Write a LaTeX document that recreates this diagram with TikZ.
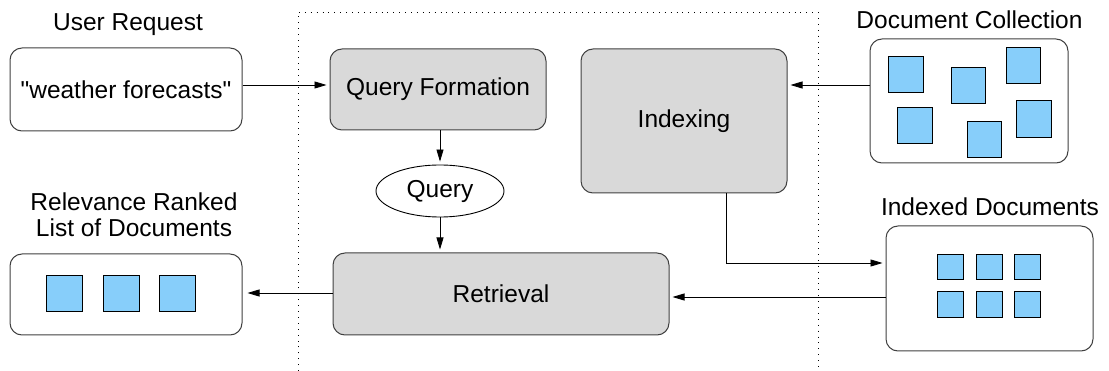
\documentclass[tikz,border=0pt]{standalone}
\usepackage{fontspec}
\setmainfont{Liberation Sans}[Ligatures=TeXOff]
\usetikzlibrary{arrows.meta,shapes.geometric}
\definecolor{procgray}{HTML}{D9D9D9}
\definecolor{docblue}{HTML}{87CEFA}
\definecolor{edgegray}{HTML}{404040}
\begin{document}
\begin{tikzpicture}[x=1pt,y=-1pt,
  every node/.style={font=\fontsize{24.5}{26}\selectfont, inner sep=0pt},
  databox/.style={draw=edgegray, line width=1pt, rounded corners=12pt, fill=white},
  procbox/.style={draw=edgegray, line width=1pt, rounded corners=12pt, fill=procgray},
  doc/.style={draw=black, line width=0.9pt, fill=docblue},
  lbl/.style={align=center},
  arr/.style={draw=black, line width=0.8pt, -{Triangle[length=12pt,width=7pt]}, shorten >=3pt}
]
\useasboundingbox (0,0) rectangle (1109,371);
% dotted frame
\draw[line width=0.9pt, dash pattern=on 0.9pt off 5pt] (298,371) -- (298,12) -- (818,12) -- (818,371);

% user request
\node[lbl] (ulabel) at (128,25) {User Request};
\node[databox, minimum width=232pt, minimum height=83pt] (req) at (126,89.5) {"weather forecasts"};

% query formation
\node[procbox, minimum width=216pt, minimum height=81pt] (qf) at (438,89.5) {Query Formation};
\node[draw=black, line width=0.9pt, ellipse, minimum width=128pt, minimum height=52pt] (query) at (440,191) {Query};
\node[procbox, minimum width=336pt, minimum height=82pt] (retr) at (501,294) {Retrieval};

% indexing
\node[procbox, minimum width=206pt, minimum height=144pt] (idx) at (684,121) {Indexing};

% document collection
\node[lbl] (dclabel) at (969.5,20) {Document Collection};
\node[databox, minimum width=198pt, minimum height=124pt] (dc) at (969,101) {};
\node[doc, minimum width=35pt, minimum height=36pt] (c1) at (905.5,74) {};
\node[doc, minimum width=34pt, minimum height=36pt] (c2) at (968,85) {};
\node[doc, minimum width=34pt, minimum height=36pt] (c3) at (1023,65) {};
\node[doc, minimum width=35pt, minimum height=36pt] (c4) at (914.5,125) {};
\node[doc, minimum width=34pt, minimum height=36pt] (c5) at (984,139) {};
\node[doc, minimum width=35pt, minimum height=37pt] (c6) at (1033.5,118.5) {};

% indexed documents
\node[lbl] (idlabel) at (990,207) {Indexed Documents};
\node[databox, minimum width=207pt, minimum height=125pt] (iddocs) at (989.5,288.5) {};
\foreach \i/\x in {1/950,2/989,3/1027}{
  \node[doc, minimum width=26pt, minimum height=25pt] (ia\i) at (\x,266.5) {};
  \node[doc, minimum width=26pt, minimum height=26pt] (ib\i) at (\x,304) {};
}

% ranked list
\node[lbl] (rllabel) at (134,215) {Relevance Ranked\\List of Documents};
\node[databox, minimum width=232pt, minimum height=81pt] (rl) at (126,294.5) {};
\foreach \i/\x in {1/64,2/121,3/177.5}{
  \node[doc, minimum width=36pt, minimum height=36pt] (r\i) at (\x,293) {};
}

% connectors
\draw[arr] ([yshift=4.5pt]req.east) -- ([yshift=4.5pt]qf.west);
\draw[arr] (qf.south -| query.north) -- (query.north);
\draw[arr] (query.south) -- (query.south |- retr.north);
\draw[arr] ([yshift=16pt]dc.west) -- ([yshift=16pt]dc.west -| idx.east);
\draw[arr] ([xshift=42pt]idx.south) |- ([yshift=25.5pt]iddocs.west);
\draw[arr] ([yshift=-8.5pt]iddocs.west) -- ([yshift=-8.5pt]iddocs.west -| retr.east);
\draw[arr, shorten >=5pt] ([yshift=1pt]retr.west) -- ([yshift=1pt]retr.west -| rl.east);
\end{tikzpicture}
\end{document}
